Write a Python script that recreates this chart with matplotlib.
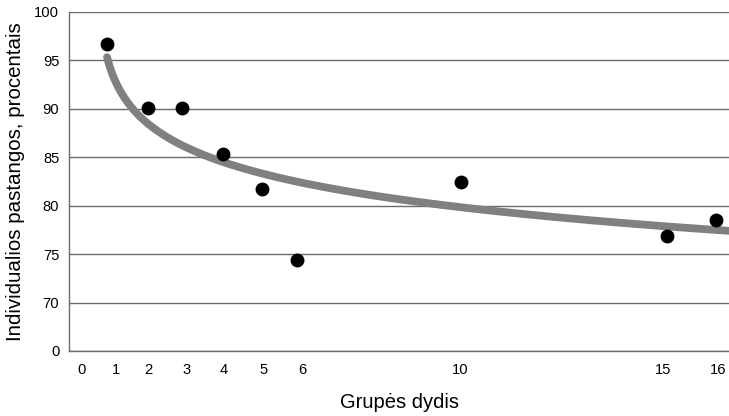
import numpy as np
import matplotlib
matplotlib.use('Agg')
import matplotlib.pyplot as plt

# Data
group_size = [1.12, 2.13, 2.97, 3.99, 4.95, 5.82, 9.87, 14.97, 16.18]
effort_pct = [96.65, 90.1, 90.1, 85.3, 81.7, 74.4, 82.4, 76.9, 78.5]

x_tick_labels = ['0', '1', '2', '3', '4', '5', '6', '10', '15', '16']
x_tick_pos = [0.50, 1.34, 2.13, 3.09, 4.01, 4.98, 5.94, 9.85, 14.87, 16.23]
y_ticks = [65, 70, 75, 80, 85, 90, 95, 100]
y_tick_labels = ['0', '70', '75', '80', '85', '90', '95', '100']

# logarithmic trend line parameters
trend_a = -4.42
trend_b = 89.55
trend_shift = 0.848

plt.rcParams['font.family'] = ['Liberation Sans', 'DejaVu Sans']

fig = plt.figure(figsize=(7.29, 4.16), dpi=100)
ax = fig.add_axes([0.0947, 0.1563, 0.9053, 0.8156])

x_max = 16.5
xs = np.linspace(group_size[0], x_max, 400)
ax.plot(xs, trend_b + trend_a * np.log(xs - trend_shift), color='#808080',
        lw=5.6, solid_capstyle='round', zorder=2)
ax.scatter(group_size, effort_pct, s=100, color='black', zorder=3, linewidths=0)

ax.set_xlim(0.18, x_max)
ax.set_ylim(65, 100)
ax.set_yticks(y_ticks)
ax.set_yticklabels(y_tick_labels)
ax.set_xticks(x_tick_pos)
ax.set_xticklabels(x_tick_labels)
ax.tick_params(length=0, labelsize=10.6, colors='black')
ax.tick_params(axis='x', pad=9)
ax.tick_params(axis='y', pad=7)

ax.yaxis.grid(True, color='#6a6a6a', lw=1.0)
ax.set_axisbelow(True)
for s in ['top', 'right']:
    ax.spines[s].set_visible(False)
for s in ['left', 'bottom']:
    ax.spines[s].set_color('#6a6a6a')
    ax.spines[s].set_linewidth(1.0)

ax.set_xlabel('Grupės dydis', fontsize=14.5, labelpad=11)
ax.set_ylabel('Individualios pastangos, procentais', fontsize=14.8, labelpad=7)

fig.savefig('out.png', dpi=100)
